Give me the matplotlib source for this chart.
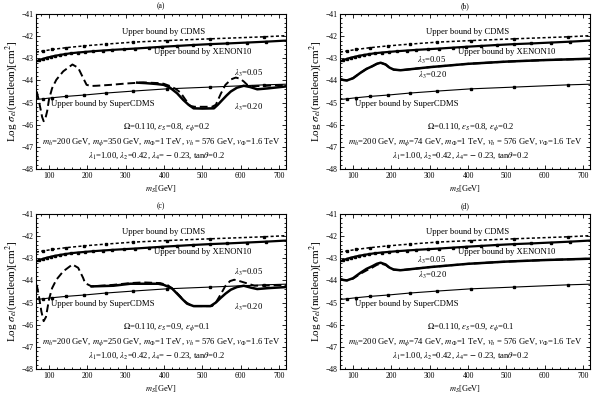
import matplotlib
matplotlib.use("Agg")
import matplotlib.pyplot as plt
from matplotlib.ticker import MultipleLocator

plt.rcParams['font.family'] = ['Liberation Serif', 'DejaVu Serif']
plt.rcParams['mathtext.fontset'] = 'stix'

# experimental bounds (same in every panel)
cdms_m = [66, 84, 109, 145, 191, 248, 320, 407, 521, 660, 718]
cdms_y = [-42.72, -42.67, -42.6, -42.52, -42.44, -42.36, -42.27, -42.2, -42.12, -42.03, -41.98]

xe_m = [66, 75, 85, 95, 105, 115, 128, 142, 158, 175, 195, 215, 240, 265, 295,
        325, 360, 395, 435, 475, 520, 565, 615, 665, 718]
xe_y = [-43.15, -43.08, -43.02, -42.97, -42.93, -42.89, -42.85, -42.81, -42.77, -42.74,
        -42.71, -42.68, -42.65, -42.62, -42.59, -42.56, -42.52, -42.48, -42.44, -42.4,
        -42.36, -42.33, -42.29, -42.25, -42.2]

sc_m = [66, 84, 109, 145, 191, 248, 320, 407, 521, 660, 718]
sc_y = [-44.86, -44.83, -44.78, -44.72, -44.66, -44.57, -44.48, -44.38, -44.3, -44.2, -44.17]

# panel (a)
a_dash_m = [68, 72, 78, 82, 86, 90, 95, 100, 108, 119, 137, 161, 176, 189, 198, 210, 224,
            260, 300, 346, 385, 399, 415, 430, 443, 455, 468, 480, 525, 535, 548, 560,
            575, 587, 598, 608, 617, 633, 660, 690, 718]
a_dash_y = [-44.5, -44.8, -45.3, -45.65, -45.84, -45.75, -45.4, -44.85, -44.35, -43.97,
            -43.59, -43.28, -43.43, -43.89, -44.2, -44.25, -44.24, -44.2, -44.14, -44.09,
            -44.12, -44.15, -44.25, -44.38, -44.55, -44.85, -45.15, -45.19, -45.19, -45.1,
            -44.6, -44.2, -43.95, -43.87, -43.92, -44.05, -44.2, -44.26, -44.25, -44.22, -44.2]
a_sol_m = [330, 351, 380, 399, 415, 434, 450, 464, 477, 500, 530, 540, 552, 563, 574,
           590, 608, 625, 643, 670, 718]
a_sol_y = [-44.1, -44.12, -44.16, -44.2, -44.32, -44.58, -44.88, -45.1, -45.26, -45.27,
           -45.26, -45.1, -44.88, -44.68, -44.5, -44.33, -44.24, -44.3, -44.4, -44.36, -44.27]

# panel (c)
c_dash_m = [68, 74, 80, 86, 92, 100, 108, 119, 137, 161, 176, 189, 194, 211, 268, 312, 346,
            390, 410, 425, 440, 455, 473, 525, 535, 547, 560, 572, 583, 595, 614, 636,
            670, 718]
c_dash_y = [-44.2, -44.75, -45.4, -45.84, -45.65, -44.85, -44.35, -43.97, -43.59, -43.28,
            -43.43, -43.89, -44.12, -44.27, -44.2, -44.12, -44.09, -44.12, -44.22, -44.42,
            -44.68, -44.96, -45.16, -45.16, -45.0, -44.65, -44.25, -44.03, -43.97, -44.02,
            -44.12, -44.24, -44.23, -44.2]
c_sol_m = [211, 268, 312, 385, 399, 420, 434, 448, 460, 477, 521, 535, 547, 560, 574,
           590, 608, 625, 643, 670, 718]
c_sol_y = [-44.27, -44.24, -44.15, -44.15, -44.2, -44.35, -44.6, -44.85, -45.05, -45.16,
           -45.16, -45.0, -44.8, -44.6, -44.42, -44.3, -44.24, -44.32, -44.39, -44.35, -44.3]

# panels (b) and (d)
bd_m = [66, 75, 84, 100, 119, 135, 150, 162, 172, 185, 195, 206, 224, 300, 400, 500, 600, 718]
bd_sol_y = [-43.94, -43.98, -44.0, -43.9, -43.66, -43.48, -43.36, -43.25, -43.2, -43.28,
            -43.42, -43.51, -43.54, -43.4, -43.25, -43.15, -43.08, -43.02]
b_dash_y = bd_sol_y
d_dash_y = [-43.94, -43.98, -44.0, -43.92, -43.7, -43.55, -43.42, -43.3, -43.24, -43.3,
            -43.43, -43.51, -43.54, -43.4, -43.25, -43.15, -43.08, -43.02]

panels = [
    ("(a)", [0.0592, 0.5764], a_dash_m, a_dash_y, a_sol_m, a_sol_y, "0.8", "0.2", "350",
     (620, -43.66), (620, -45.23)),
    ("(b)", [0.5592, 0.5764], bd_m, b_dash_y, bd_m, bd_sol_y, "0.8", "0.2", "74",
     (306, -43.08), (308, -43.76)),
    ("(c)", [0.0592, 0.0752], c_dash_m, c_dash_y, c_sol_m, c_sol_y, "0.9", "0.1", "250",
     (620, -43.66), (620, -45.23)),
    ("(d)", [0.5592, 0.0752], bd_m, d_dash_y, bd_m, bd_sol_y, "0.9", "0.1", "74",
     (306, -43.08), (308, -43.76)),
]

fig = plt.figure(figsize=(6.08, 3.99), dpi=100)

for (lab, pos, dm, dy, sm, sy, es, ep, mphi, t05, t20) in panels:
    ax = fig.add_axes([pos[0], pos[1], 0.4112, 0.3885])
    ax.plot(cdms_m, cdms_y, color='black', lw=1.1, ls=(0, (2, 1.5)),
            marker='s', ms=1.8, markevery=slice(1, -1))
    ax.plot(xe_m, xe_y, color='black', lw=1.6, marker='s', ms=1.8, markevery=slice(1, -1))
    ax.plot(sc_m, sc_y, color='black', lw=0.8, marker='s', ms=1.6, markevery=slice(1, -1))
    ax.plot(sm, sy, color='black', lw=1.8)
    ax.plot(dm, dy, color='black', lw=1.4, ls=(0, (4, 2)))

    ax.set_xlim(66, 718)
    ax.set_ylim(-48, -41)
    ax.xaxis.set_major_locator(MultipleLocator(100))
    ax.xaxis.set_minor_locator(MultipleLocator(20))
    ax.yaxis.set_major_locator(MultipleLocator(1))
    ax.yaxis.set_minor_locator(MultipleLocator(0.2))
    ax.tick_params(which='both', direction='in', top=True, right=True, labelsize=5.5,
                   width=0.6, pad=2)
    ax.tick_params(which='major', length=3)
    ax.tick_params(which='minor', length=1.5)
    for s in ax.spines.values():
        s.set_linewidth(0.8)

    ax.set_title(lab, fontsize=5.5, pad=4)
    ax.set_xlabel(r"$m_S$[GeV]", fontsize=6, labelpad=3)
    ax.set_ylabel(r"Log $\sigma_{el}$(nucleon)[cm$^2$]", fontsize=8, labelpad=1)

    fs = 6.2
    ax.text(398, -41.83, "Upper bound by CDMS", fontsize=fs, ha='center', va='center')
    ax.text(502, -42.72, "Upper bound by XENON10", fontsize=fs, ha='center', va='center')
    ax.text(240, -45.06, "Upper bound by SuperCDMS", fontsize=fs, ha='center', va='center')
    ax.text(t05[0], t05[1], r"$\lambda_3$=0.05", fontsize=fs, ha='center', va='center')
    ax.text(t20[0], t20[1], r"$\lambda_3$=0.20", fontsize=fs, ha='center', va='center')
    ax.text(407, -46.11, r"$\Omega$=0.110, $\epsilon_S$=" + es + r", $\epsilon_\phi$=" + ep,
            fontsize=fs, ha='center', va='center')
    ax.text(394, -46.78, r"$m_h$=200 GeV, $m_\phi$=" + mphi +
            r" GeV, $m_\Phi$=1 TeV, $v_h$ = 576 GeV, $v_\Phi$=1.6 TeV",
            fontsize=fs, ha='center', va='center')
    ax.text(381, -47.4, r"$\lambda_1$=1.00, $\lambda_2$=0.42, $\lambda_4$= $-$ 0.23, tan$\theta$=0.2",
            fontsize=fs, ha='center', va='center')

fig.savefig("out.png", dpi=100)
